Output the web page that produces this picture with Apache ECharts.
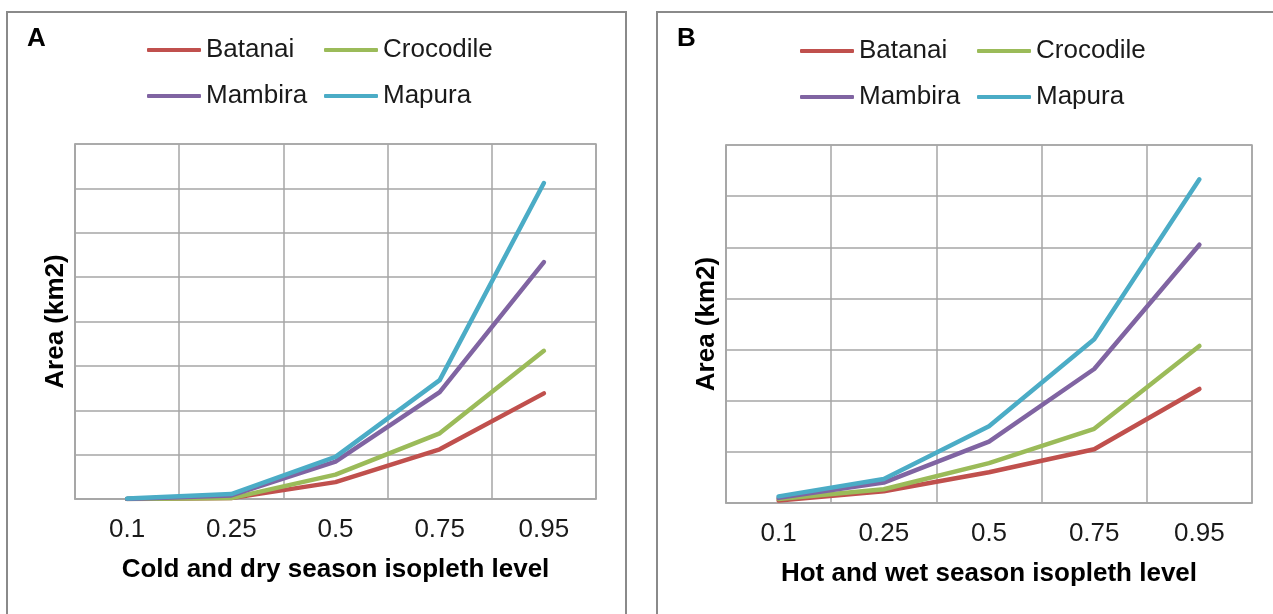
<!DOCTYPE html>
<html>
<head>
<meta charset="utf-8">
<script src="https://cdn.jsdelivr.net/npm/echarts@6/dist/echarts.min.js"></script>
<style>
html,body{margin:0;padding:0;background:#fff;}
#c{width:1273px;height:614px;}
</style>
</head>
<body>
<div id="c"></div>
<script>
// Category tick labels (isopleth levels)
const levels = ['0.1', '0.25', '0.5', '0.75', '0.95'];
const seriesNames = ['Batanai', 'Crocodile', 'Mambira', 'Mapura'];
const seriesColors = ['#C0504D', '#9BBB59', '#8064A2', '#4BACC6'];

// Panel A: cold and dry season (values in gridline units; no y labels shown)
const coldBatanai   = [0.00, 0.02, 0.38, 1.12, 2.38];
const coldCrocodile = [0.00, 0.02, 0.55, 1.48, 3.34];
const coldMambira   = [0.00, 0.08, 0.84, 2.41, 5.34];
const coldMapura    = [0.01, 0.11, 0.95, 2.68, 7.12];

// Panel B: hot and wet season
const hotBatanai   = [0.05, 0.23, 0.60, 1.05, 2.23];
const hotCrocodile = [0.08, 0.27, 0.78, 1.45, 3.07];
const hotMambira   = [0.10, 0.40, 1.20, 2.62, 5.05];
const hotMapura    = [0.13, 0.47, 1.50, 3.20, 6.33];

const FONT = "'Liberation Sans', Arial, sans-serif";
const GRIDC = '#a6a6a6';

function xAxis(gridIndex, name) {
  return {
    type: 'category', gridIndex: gridIndex, data: levels, boundaryGap: true,
    axisLine: {show: true, lineStyle: {color: GRIDC, width: 1.5}},
    axisTick: {show: false},
    axisLabel: {fontSize: 26, color: '#1a1a1a', fontFamily: FONT, margin: 18},
    splitLine: {show: true, lineStyle: {color: GRIDC, width: 1.5}},
    name: name, nameLocation: 'middle', nameGap: 58,
    nameTextStyle: {fontSize: 26, fontWeight: 'bold', color: '#000', fontFamily: FONT}
  };
}
function yAxis(gridIndex, max) {
  return {
    type: 'value', gridIndex: gridIndex, min: 0, max: max, interval: 1,
    axisLine: {show: true, lineStyle: {color: GRIDC, width: 1.5}},
    axisTick: {show: false},
    axisLabel: {show: false},
    splitLine: {show: true, lineStyle: {color: GRIDC, width: 1.5}},
    name: 'Area (km2)', nameLocation: 'middle', nameGap: 6,
    nameTextStyle: {fontSize: 26, fontWeight: 'bold', color: '#000', fontFamily: FONT}
  };
}
function line(name, data, idx, color) {
  return {
    type: 'line', name: name, data: data, xAxisIndex: idx, yAxisIndex: idx,
    symbol: 'none', lineStyle: {width: 4.5, color: color, cap: 'round', join: 'round'},
    itemStyle: {color: color}, animation: false
  };
}
function legendItem(name, left, cy) {
  return {
    data: [name], left: left, top: cy - 15, padding: 0,
    icon: 'roundRect', itemWidth: 54, itemHeight: 4,
    textStyle: {fontSize: 26, color: '#1a1a1a', fontFamily: FONT, lineHeight: 30},
    selectedMode: false
  };
}

const option = {
  backgroundColor: '#fff',
  animation: false,
  grid: [
    {left: 75, top: 144, width: 521, height: 355, show: true, borderColor: GRIDC, borderWidth: 1.5, containLabel: false},
    {left: 726, top: 145, width: 526, height: 358, show: true, borderColor: GRIDC, borderWidth: 1.5, containLabel: false}
  ],
  xAxis: [xAxis(0, 'Cold and dry season isopleth level'), xAxis(1, 'Hot and wet season isopleth level')],
  yAxis: [yAxis(0, 8), yAxis(1, 7)],
  legend: [
    legendItem('Batanai', 147, 50), legendItem('Crocodile', 324, 50),
    legendItem('Mambira', 147, 96), legendItem('Mapura', 324, 96),
    legendItem('Batanai', 800, 51), legendItem('Crocodile', 977, 51),
    legendItem('Mambira', 800, 97), legendItem('Mapura', 977, 97)
  ],
  graphic: [
    {type: 'rect', shape: {x: 7, y: 12, width: 619, height: 700}, style: {fill: 'none', stroke: '#8a8a8a', lineWidth: 2}, silent: true},
    {type: 'rect', shape: {x: 657, y: 12, width: 700, height: 700}, style: {fill: 'none', stroke: '#8a8a8a', lineWidth: 2}, silent: true},
    {type: 'text', left: 27, top: 26, style: {text: 'A', fontSize: 26, fontWeight: 'bold', fill: '#000', fontFamily: FONT}},
    {type: 'text', left: 677, top: 26, style: {text: 'B', fontSize: 26, fontWeight: 'bold', fill: '#000', fontFamily: FONT}}
  ],
  series: [
    line(seriesNames[0], coldBatanai, 0, seriesColors[0]),
    line(seriesNames[1], coldCrocodile, 0, seriesColors[1]),
    line(seriesNames[2], coldMambira, 0, seriesColors[2]),
    line(seriesNames[3], coldMapura, 0, seriesColors[3]),
    line(seriesNames[0], hotBatanai, 1, seriesColors[0]),
    line(seriesNames[1], hotCrocodile, 1, seriesColors[1]),
    line(seriesNames[2], hotMambira, 1, seriesColors[2]),
    line(seriesNames[3], hotMapura, 1, seriesColors[3])
  ]
};
const chart = echarts.init(document.getElementById('c'), null, {renderer: 'canvas'});
chart.setOption(option);
</script>
</body>
</html>
